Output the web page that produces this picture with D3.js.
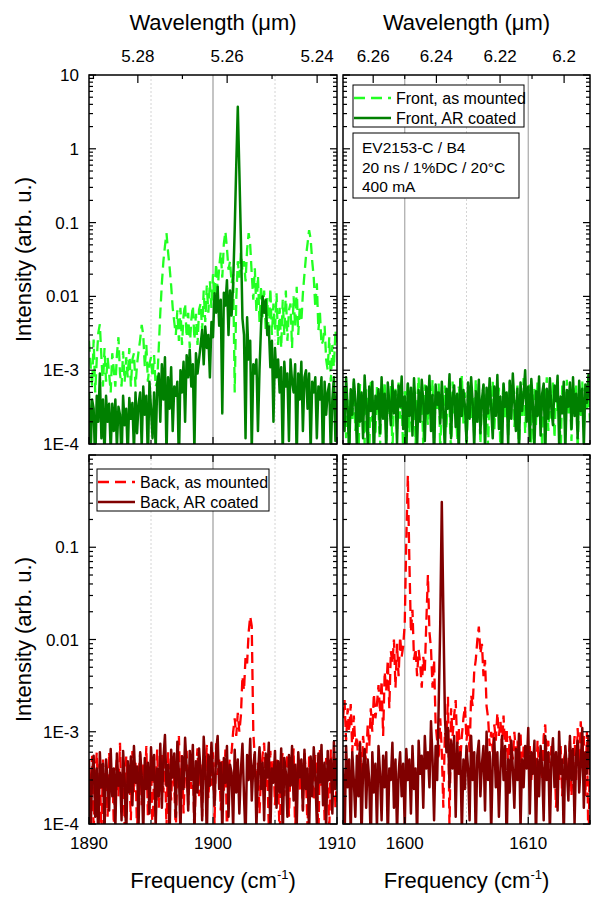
<!DOCTYPE html>
<html lang="en">
  <head>
    <meta charset="utf-8">
    <title>EV2153-C / B4 spectra</title>
    <style>
      body { margin: 0; background: #fff; }
      text { font-family: Arial, "Liberation Sans", sans-serif; fill: #000; }
    </style>
  </head>
  <body>

<script src="https://d3js.org/d3.v7.min.js"></script>

<script>
// spectra are sampled every 0.125 cm-1, intensities given in units of 1E-4 (arb. u.)
var step = 0.125;
var unit = 1e-4;

// ---- 1890-1910 cm-1 window ----
var freqStart1900 = 1890;
var frontMounted1900 = [
  25, 12, 6, 26, 5, 14, 32, 42,
  15, 6, 20, 7, 15, 9, 5, 17,
  10, 6, 16, 28, 9, 6, 18, 7,
  15, 8, 20, 6, 14, 17, 6, 12,
  18, 26, 41, 30, 11, 22, 7, 12,
  15, 8, 16, 6, 7, 20, 60, 150,
  300, 480, 720, 400, 250, 140, 70, 45,
  30, 65, 25, 70, 22, 55, 80, 28,
  60, 20, 48, 75, 26, 58, 22, 66,
  80, 35, 120, 45, 140, 60, 160, 70,
  200, 100, 280, 120, 250, 400, 180, 520,
  760, 450, 230, 300, 150, 200, 5, 90,
  300, 180, 390, 220, 300, 160, 430, 720,
  500, 200, 90, 240, 60, 190, 45, 140,
  50, 120, 35, 95, 28, 130, 30, 80,
  35, 110, 22, 70, 20, 90, 30, 120,
  25, 65, 80, 20, 100, 38, 135, 30,
  75, 45, 110, 200, 350, 520, 790, 600,
  300, 180, 70, 150, 35, 60, 22, 25,
  40, 14, 10, 28, 7, 22, 11, 35,
  20
];
var frontCoated1900 = [
  5, 0.6, 4, 3, 0.5, 4.5, 2, 9,
  1.2, 4, 0.7, 4.5, 2, 3.5, 0.8, 3.5,
  1.5, 4, 0.9, 3.2, 2.5, 0.6, 4.5, 1.8,
  3, 0.7, 4.2, 2.2, 3.6, 0.8, 5, 1.4,
  3.5, 5, 0.9, 6, 2.5, 4.5, 0.6, 7,
  3, 1.2, 5, 0.8, 6.5, 9, 2, 12,
  4, 15, 0.7, 8, 3, 11, 1.5, 6,
  4.5, 7, 0.5, 10, 5, 13, 2, 16,
  8, 19, 6, 12, 0.8, 17, 9, 14,
  22, 35, 12, 39, 20, 30, 8, 45,
  28, 110, 60, 135, 40, 90, 2.6, 112,
  75, 166, 30, 120, 55, 150, 800, 6000,
  37000, 5000, 600, 50, 30, 1.2, 52, 14,
  25, 0.8, 12, 9, 14, 1.5, 10, 40,
  100, 60, 90, 30, 39, 11, 25, 2,
  20, 8, 14, 5, 11, 0.7, 13, 6,
  9, 1.1, 14, 7, 5, 12, 0.6, 9,
  4, 13, 1.5, 8, 10, 3, 9, 0.8,
  7, 5, 8, 1.2, 6, 4, 8, 0.5,
  7, 2.5, 5, 6.5, 0.7, 4, 8, 1.1,
  5
];
var backMounted1900 = [
  4, 1.5, 5.5, 0.8, 3, 6, 2, 4.5,
  0.7, 5, 2.5, 3.5, 1.2, 6, 2.8, 4,
  1, 3.2, 5.2, 2, 7.6, 1.4, 4.2, 0.9,
  5.4, 2.6, 3.8, 1.1, 6.2, 2.2, 4.6, 0.8,
  3.4, 5.8, 1.6, 4.4, 2.4, 7, 1.2, 3.6,
  5, 0.7, 4, 2.8, 6.4, 1.5, 3.2, 5.6,
  2.2, 4.8, 0.9, 6, 3, 1.8, 5.2, 2.6,
  0.8, 4.2, 9, 2, 5.6, 1.3, 3.8, 6.2,
  1.6, 4.6, 2.4, 5.4, 0.7, 3.6, 6.6, 2,
  4.4, 1.2, 5.8, 3, 7.2, 1.9, 4, 2.6,
  6, 1, 7.5, 3.4, 5, 1.4, 4.8, 2.2,
  6.4, 0.8, 3.8, 5.4, 6, 10, 14, 9,
  16, 10, 15, 40, 28, 65, 55, 120,
  178, 140, 10, 5, 2.2, 4.6, 1.3, 3.4,
  5.6, 7.6, 2.4, 4.2, 0.9, 6.2, 2.8, 4.8,
  1.6, 5.2, 3, 0.7, 4.4, 6, 2, 3.8,
  5.8, 1.2, 4, 2.6, 6.6, 0.8, 3.4, 5,
  2.2, 4.6, 1.4, 6.2, 3, 0.9, 5.4, 2.4,
  4.2, 1.8, 5.6, 3.2, 0.7, 6.8, 2.6, 4.4,
  1.1, 5.2, 3.6, 0.8, 6.4, 2.2, 4.8, 1.5,
  3.8
];
var backCoated1900 = [
  5, 0.7, 3.5, 5.5, 1.2, 4, 0.6, 6,
  2.5, 4.5, 0.8, 5, 3, 1.4, 6.5, 2,
  4, 0.9, 5.8, 2.6, 3.6, 1.1, 6.2, 3,
  0.7, 4.8, 2.2, 5.4, 1.6, 7, 2.8, 4.2,
  1, 6, 3.4, 0.8, 5.2, 2.4, 4.6, 1.3,
  6.8, 3, 5.6, 0.9, 4, 2, 7.4, 1.5,
  5, 9.2, 2.6, 4.4, 0.7, 6.4, 3.2, 5.8,
  1.2, 7.8, 3.6, 0.8, 5.4, 2.4, 8.6, 4,
  1.4, 6.2, 3, 7.2, 0.9, 4.8, 2.2, 6.6,
  3.8, 1.1, 8.8, 4.2, 0.7, 5.6, 2.6, 7.6,
  3.4, 1.6, 6, 9, 2.4, 4.6, 0.8, 5.2,
  2.8, 7, 1.2, 4.4, 3.6, 0.9, 6.4, 2.2,
  5, 1.3, 3.8, 7.4, 2, 0.7, 5.6, 3,
  8.4, 1.8, 4.2, 6, 0.9, 3.4, 6.8, 2.4,
  4.6, 1.1, 5.8, 3.2, 7.6, 0.8, 4, 2.8,
  6.2, 1.5, 4.8, 2.2, 6.6, 0.7, 5.2, 3.6,
  1.2, 5.6, 2.6, 7, 1.8, 4.4, 0.9, 6,
  3.2, 5, 1.4, 6.4, 2.4, 4, 0.8, 5.4,
  2, 6.8, 3.4, 1, 5.8, 2.8, 7.2, 1.6,
  4.6, 0.9, 6.2, 3, 5, 1.3, 7.8, 2.4,
  5.2
];

// ---- 1595-1615 cm-1 window ----
var freqStart1600 = 1595;
var frontMounted1600 = [
  3, 6, 1.2, 4, 0.8, 5, 2, 7,
  1.5, 3.5, 0.6, 6.5, 2.5, 4.5, 1, 5.5,
  3, 0.7, 7.5, 2, 4, 1.3, 6, 2.8,
  0.9, 5, 3.2, 7, 1.1, 4.2, 2.4, 6.2,
  0.8, 3.8, 5.6, 1.6, 6.8, 2.2, 4.6, 0.7,
  5.2, 3, 7.2, 1.4, 4.4, 2.6, 6, 1,
  3.6, 8, 2, 5, 0.9, 6.4, 3.4, 1.8,
  5.8, 2.4, 7.4, 1.2, 4.8, 3, 6.6, 0.8,
  4, 2.2, 6.2, 1.6, 5.4, 3.2, 0.7, 7,
  2.6, 4.6, 1.1, 6, 3.6, 8.5, 1.9, 5,
  0.8, 3.4, 6.8, 2.2, 4.2, 1.3, 7.6, 2.8,
  5.2, 1, 3.8, 6.4, 2, 4.8, 0.9, 6,
  3, 7.2, 1.5, 4.4, 2.6, 5.8, 0.7, 3.6,
  6.6, 2.2, 4.8, 1.2, 7, 3, 5.4, 1.7,
  3.8, 6.2, 0.8, 5, 2.4, 7.8, 1.4, 4.4,
  2.8, 6.4, 1, 3.6, 5.6, 1.8, 7.2, 2.6,
  4.6, 0.9, 6, 3.2, 8, 1.5, 4, 2.2,
  6.8, 1.2, 5, 2.8, 3.8, 0.7, 6.2, 3.4,
  1.9, 7.4, 2.6, 4.8, 1.1, 5.8, 3.2, 6.6,
  0.8, 4.2, 2.4, 7, 1.6, 5.2, 3, 6,
  2
];
var frontCoated1600 = [
  6, 1.5, 8, 3, 0.7, 5.5, 2.5, 7.5,
  4, 0.9, 6.5, 2, 5, 1.2, 8.5, 3.5,
  1, 6, 2.8, 7, 0.6, 4.5, 3, 5.5,
  1.4, 8, 2.2, 4.8, 0.8, 6.8, 3.6, 1.8,
  7.2, 2.6, 5.2, 1, 6.2, 3.2, 8.2, 1.6,
  4.4, 0.7, 6.6, 2.4, 5.8, 1.3, 7.8, 3,
  0.9, 5.4, 2, 7.4, 3.8, 1.1, 6, 2.6,
  8.4, 1.5, 4.6, 0.6, 6.4, 3.4, 5, 1.9,
  7, 2.8, 0.8, 5.6, 3, 8.8, 1.2, 4.2,
  6.2, 1.7, 4.8, 0.7, 7.6, 2.4, 5.4, 3.2,
  1.1, 6.8, 2.2, 8, 3.6, 0.9, 5.2, 2,
  7.4, 1.4, 4, 6.4, 0.8, 5.8, 2.6, 7.8,
  3, 1.2, 6, 2.4, 8.6, 1.6, 4.4, 0.7,
  6.6, 3.2, 5, 1, 7.2, 2.2, 9, 3.6,
  1.5, 5.6, 0.8, 6.8, 2.8, 4.6, 10, 2,
  6, 1.1, 7.6, 3.4, 0.9, 5.2, 2.4, 8.2,
  1.3, 4.8, 6.6, 0.7, 5.6, 2.2, 7.8, 3,
  1.8, 6.2, 3.8, 8.4, 1, 4.4, 2.6, 7,
  0.8, 5.4, 3.2, 6.8, 1.6, 8, 2.4, 4.8,
  1.2, 7.2, 2.8, 5.6, 0.9, 6.4, 3.6, 8.6,
  4
];
var backMounted1600 = [
  14, 22, 8, 18, 10, 20, 6, 15,
  7, 9, 4, 8, 3, 9, 6, 5,
  12, 7, 18, 10, 26, 14, 20, 32,
  16, 36, 9, 45, 28, 60, 18, 75,
  55, 100, 30, 90, 40, 107, 65, 85,
  150, 1200, 6000, 700, 120, 210, 60, 80,
  40, 77, 55, 30, 65, 45, 160, 500,
  120, 80, 30, 60, 12, 8, 5, 14,
  6, 1.5, 10, 8, 24, 0.8, 18, 9,
  15, 22, 7, 11, 5, 9, 14, 19,
  8, 12, 6, 25, 19, 45, 60, 98,
  138, 70, 90, 40, 60, 19, 14, 7,
  10, 6, 12, 8, 16, 9, 13, 7,
  15, 6, 11, 4, 9, 7, 5, 10,
  6, 8, 4, 10, 3, 7, 5, 6,
  4, 7, 3, 6, 5, 2.5, 8, 4,
  6, 3, 9, 12, 5, 8, 2, 7,
  4, 6, 1.5, 5, 3, 7, 2, 5,
  6, 3, 4.5, 8, 2, 5, 9, 3,
  11, 4, 13, 6, 9, 2, 10, 0.5,
  7
];
var backCoated1600 = [
  4, 0.6, 7, 2.5, 5, 0.8, 6, 3,
  1.2, 5.5, 2, 7.5, 0.7, 4, 6.5, 1.5,
  5, 3, 0.6, 6, 2.2, 4.5, 0.9, 7,
  3.5, 1.1, 5.5, 2.5, 6, 0.7, 4, 3,
  7.6, 1.5, 5, 0.8, 3.5, 6, 2, 4.5,
  0.9, 6.5, 3, 5, 1.3, 7, 2.4, 4,
  0.7, 8, 3.5, 5.5, 1.5, 9, 4, 6,
  2.5, 13, 5, 1.1, 7, 3, 20, 150,
  3100, 200, 15, 6, 11, 2.5, 8, 4,
  9, 1.2, 7.6, 3.5, 6, 0.8, 5, 2.4,
  7, 4, 1.1, 9, 3, 6, 0.7, 5.5,
  8, 2, 4.5, 7, 1.4, 10, 3, 6,
  0.8, 5, 8.5, 2.5, 6, 1.2, 4, 9,
  3, 7, 0.6, 5, 2.2, 8, 4, 1.5,
  6.5, 3, 9.5, 0.9, 5, 2.5, 7, 4,
  11, 1.3, 6, 3.5, 8, 0.7, 5, 2,
  7, 4, 1.1, 9, 3, 6, 0.8, 5,
  8.5, 2.5, 6, 1.4, 10, 3.5, 5, 0.7,
  7, 4, 1.8, 9, 3, 6.5, 1, 5.5,
  8, 2.2, 4.5, 11, 1.5, 6, 3.5, 9,
  4
];

// axis ticks and labels
var yDomainTop = [1e-4, 10];
var yDomainBottom = [1e-4, 1];
var yLabelsTop = [[10, "10"], [1, "1"], [0.1, "0.1"], [0.01, "0.01"], [1e-3, "1E-3"], [1e-4, "1E-4"]];
var yLabelsBottom = [[0.1, "0.1"], [0.01, "0.01"], [1e-3, "1E-3"], [1e-4, "1E-4"]];
var wlMajor1900 = [5.28, 5.26, 5.24];
var wlMinor1900 = [5.29, 5.27, 5.25];
var wlMajor1600 = [6.26, 6.24, 6.22, 6.2];
var wlMinor1600 = [6.25, 6.23, 6.21];

var colours = {
  frontMounted: "#22ff22",
  frontCoated: "#008000",
  backMounted: "#ff0000",
  backCoated: "#800000"
};

// layout of the 2x2 grid
var cols = [{x0: 89, x1: 337}, {x0: 343, x1: 590}];
var rows = [{y0: 75, y1: 444}, {y0: 455, y1: 824}];

var panels = [
  {col: 0, row: 0, start: freqStart1900, mounted: frontMounted1900, coated: frontCoated1900,
   mc: colours.frontMounted, cc: colours.frontCoated, yDom: yDomainTop, yLab: yLabelsTop,
   wlMajor: wlMajor1900, wlMinor: wlMinor1900},
  {col: 1, row: 0, start: freqStart1600, mounted: frontMounted1600, coated: frontCoated1600,
   mc: colours.frontMounted, cc: colours.frontCoated, yDom: yDomainTop, yLab: null,
   wlMajor: wlMajor1600, wlMinor: wlMinor1600},
  {col: 0, row: 1, start: freqStart1900, mounted: backMounted1900, coated: backCoated1900,
   mc: colours.backMounted, cc: colours.backCoated, yDom: yDomainBottom, yLab: yLabelsBottom},
  {col: 1, row: 1, start: freqStart1600, mounted: backMounted1600, coated: backCoated1600,
   mc: colours.backMounted, cc: colours.backCoated, yDom: yDomainBottom, yLab: null}
];

var dash = "11,6";

var svg = d3.select('body').append('svg')
  .attr('width', 612)
  .attr('height', 913);

var defs = svg.append('defs');

panels.forEach(function(p, k) {
  var c = cols[p.col], r = rows[p.row];
  var x = d3.scaleLinear().domain([p.start, p.start + 20]).range([c.x0, c.x1]);
  var y = d3.scaleLog().domain(p.yDom).range([r.y1, r.y0]);

  defs.append('clipPath').attr('id', 'clip' + k)
    .append('rect')
      .attr('x', c.x0).attr('y', r.y0)
      .attr('width', c.x1 - c.x0).attr('height', r.y1 - r.y0);

  var g = svg.append('g');

  // frequency grid lines
  var fticks = x.ticks(4);
  fticks.forEach(function(f) {
    if (f === p.start || f === p.start + 20) return;
    var major = f % 10 === 0;
    g.append('line')
      .attr('x1', x(f)).attr('x2', x(f))
      .attr('y1', r.y0).attr('y2', r.y1)
      .attr('stroke', major ? (p.col === 0 ? '#c4c4c4' : '#a8a8a8') : '#d4d4d4')
      .attr('stroke-width', major ? (p.col === 0 ? 2 : 1.2) : 1)
      .attr('stroke-dasharray', major ? null : '2,2');
  });

  // spectra
  var line = d3.line()
    .x(function(d, i) { return x(p.start + i * step); })
    .y(function(d) { return y(d * unit); });

  var plot = g.append('g').attr('clip-path', 'url(#clip' + k + ')');
  plot.append('path')
    .attr('d', line(p.mounted))
    .attr('fill', 'none')
    .attr('stroke', p.mc)
    .attr('stroke-width', 2.3)
    .attr('stroke-dasharray', dash);
  plot.append('path')
    .attr('d', line(p.coated))
    .attr('fill', 'none')
    .attr('stroke', p.cc)
    .attr('stroke-width', 2.5)
    .attr('stroke-linejoin', 'round');

  // frame
  g.append('rect')
    .attr('x', c.x0).attr('y', r.y0)
    .attr('width', c.x1 - c.x0).attr('height', r.y1 - r.y0)
    .attr('fill', 'none').attr('stroke', '#000').attr('stroke-width', 1.5);

  // y ticks, left and right, pointing inwards
  y.ticks().forEach(function(v) {
    var lg = Math.log10(v);
    var major = Math.abs(lg - Math.round(lg)) < 1e-6;
    var len = major ? 7 : 4;
    var yy = y(v);
    g.append('line').attr('x1', c.x0).attr('x2', c.x0 + len)
      .attr('y1', yy).attr('y2', yy).attr('stroke', '#000').attr('stroke-width', 1.2);
    g.append('line').attr('x1', c.x1).attr('x2', c.x1 - len)
      .attr('y1', yy).attr('y2', yy).attr('stroke', '#000').attr('stroke-width', 1.2);
  });

  // frequency ticks on bottom edge (and top edge of the lower row)
  fticks.forEach(function(f) {
    var len = f % 10 === 0 ? 7 : 4;
    g.append('line').attr('x1', x(f)).attr('x2', x(f))
      .attr('y1', r.y1).attr('y2', r.y1 - len)
      .attr('stroke', '#000').attr('stroke-width', 1.2);
    if (p.row === 1) {
      g.append('line').attr('x1', x(f)).attr('x2', x(f))
        .attr('y1', r.y0).attr('y2', r.y0 + len)
        .attr('stroke', '#000').attr('stroke-width', 1.2);
    }
  });

  // wavelength axis on top of upper row
  if (p.row === 0) {
    p.wlMinor.forEach(function(w) {
      var xx = x(1e4 / w);
      g.append('line').attr('x1', xx).attr('x2', xx)
        .attr('y1', r.y0).attr('y2', r.y0 + 4)
        .attr('stroke', '#000').attr('stroke-width', 1.2);
    });
    p.wlMajor.forEach(function(w) {
      var xx = x(1e4 / w);
      g.append('line').attr('x1', xx).attr('x2', xx)
        .attr('y1', r.y0).attr('y2', r.y0 + 8)
        .attr('stroke', '#000').attr('stroke-width', 1.2);
      svg.append('text')
        .attr('x', xx).attr('y', 62)
        .attr('text-anchor', 'middle')
        .style('font-size', '17px')
        .text(String(w));
    });
    svg.append('text')
      .attr('x', (c.x0 + c.x1) / 2).attr('y', 30)
      .attr('text-anchor', 'middle')
      .style('font-size', '22px')
      .text('Wavelength (\u03bcm)');
  }

  // frequency labels on the lower row
  if (p.row === 1) {
    fticks.filter(function(f) { return f % 10 === 0; }).forEach(function(f) {
      svg.append('text')
        .attr('x', x(f)).attr('y', 849)
        .attr('text-anchor', 'middle')
        .style('font-size', '17px')
        .text(f);
    });
    var ft = svg.append('text')
      .attr('x', (c.x0 + c.x1) / 2).attr('y', 888)
      .attr('text-anchor', 'middle')
      .style('font-size', '22px');
    ft.append('tspan').text('Frequency (cm');
    ft.append('tspan').attr('dy', -9).style('font-size', '13px').text('-1');
    ft.append('tspan').attr('dy', 9).text(')');
  }

  // y labels on the left column
  if (p.yLab) {
    p.yLab.forEach(function(t) {
      svg.append('text')
        .attr('x', 79).attr('y', y(t[0]) + 6)
        .attr('text-anchor', 'end')
        .style('font-size', '17px')
        .text(t[1]);
    });
    svg.append('text')
      .attr('transform', 'translate(31,' + ((r.y0 + r.y1) / 2) + ') rotate(-90)')
      .attr('text-anchor', 'middle')
      .style('font-size', '22px')
      .text('Intensity (arb. u.)');
  }
});

// legends
function legend(x0, y0, w, h, items) {
  var lg = svg.append('g');
  lg.append('rect')
    .attr('x', x0).attr('y', y0).attr('width', w).attr('height', h)
    .attr('fill', '#fff').attr('stroke', '#000').attr('stroke-width', 1);
  items.forEach(function(it, i) {
    var yy = y0 + 13 + i * 20;
    lg.append('line')
      .attr('x1', x0 + 1).attr('x2', x0 + 38)
      .attr('y1', yy).attr('y2', yy)
      .attr('stroke', it.colour).attr('stroke-width', 2.3)
      .attr('stroke-dasharray', it.dashed ? dash : null);
    lg.append('text')
      .attr('x', x0 + 43).attr('y', yy + 6)
      .style('font-size', '16px')
      .text(it.label);
  });
}

legend(353, 85, 171, 42, [
  {label: 'Front, as mounted', colour: colours.frontMounted, dashed: true},
  {label: 'Front, AR coated', colour: colours.frontCoated, dashed: false}
]);
legend(97, 469, 172, 42, [
  {label: 'Back, as mounted', colour: colours.backMounted, dashed: true},
  {label: 'Back, AR coated', colour: colours.backCoated, dashed: false}
]);

// measurement conditions
var info = ['EV2153-C / B4', '20 ns / 1%DC / 20\u00b0C', '400 mA'];
svg.append('rect')
  .attr('x', 353).attr('y', 133).attr('width', 166).attr('height', 65)
  .attr('fill', '#fff').attr('stroke', '#000').attr('stroke-width', 1);
info.forEach(function(t, i) {
  svg.append('text')
    .attr('x', 362).attr('y', 153 + i * 19.5)
    .style('font-size', '15.5px')
    .text(t);
});

</script>

  </body>
</html>
